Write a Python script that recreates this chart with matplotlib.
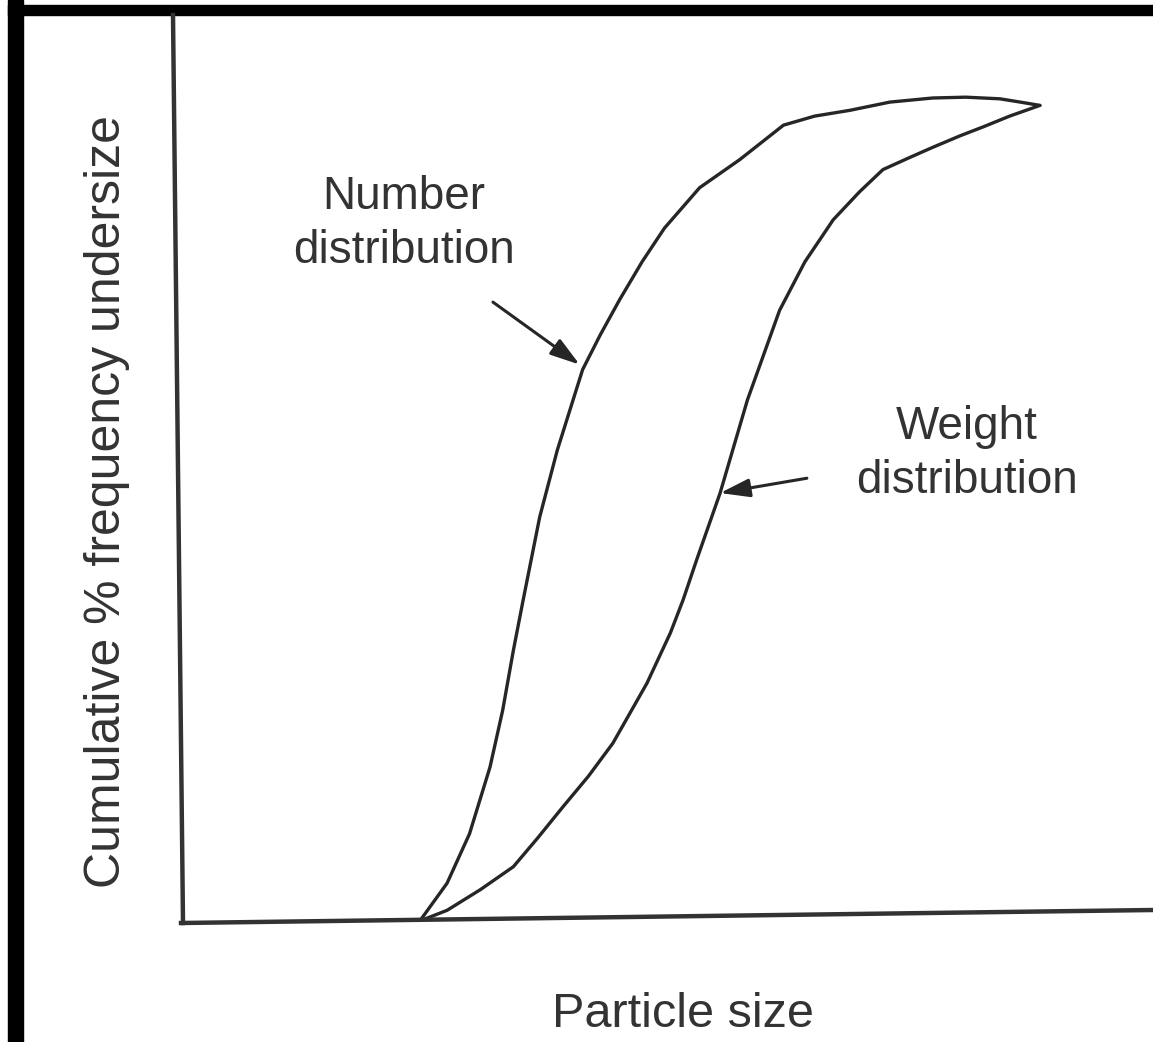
import matplotlib
matplotlib.use("Agg")
import matplotlib.pyplot as plt
from matplotlib.lines import Line2D
from matplotlib.patches import Rectangle

plt.rcParams['font.family'] = ['Liberation Sans', 'DejaVu Sans']

# ---- data (arbitrary particle-size units, cumulative %) ----
number_x = [24.8, 27.6, 29.9, 32.0, 33.3, 34.4, 35.4, 37.1, 38.9, 41.5, 43.3, 45.3, 47.6,
            49.9, 53.5, 57.6, 62.1, 65.3, 68.9, 73.0, 77.4, 80.8, 84.3, 86.4, 88.4]
number_y = [0.0, 4.6, 10.6, 18.7, 25.6, 32.9, 39.0, 49.1, 57.2, 67.0, 71.2, 75.5, 80.1,
            84.2, 89.1, 92.5, 96.7, 97.8, 98.5, 99.5, 100.0, 100.1, 99.9, 99.5, 99.1]

weight_x = [24.8, 27.6, 31.0, 34.4, 36.9, 39.5, 42.1, 44.6, 48.1, 50.5, 51.8, 53.2, 55.6,
            58.4, 61.7, 64.3, 67.2, 69.9, 72.3, 75.1, 77.4, 80.2, 82.6, 85.3, 88.4]
weight_y = [0.0, 1.3, 3.8, 6.6, 10.1, 13.9, 17.6, 21.6, 28.9, 35.0, 39.0, 43.9, 52.0,
            63.3, 74.2, 80.1, 85.2, 88.6, 91.3, 92.8, 94.0, 95.4, 96.5, 97.8, 99.1]

number_label = "Number\ndistribution"
weight_label = "Weight\ndistribution"
xlabel = "Particle size"
ylabel = "Cumulative % frequency undersize"

# annotation anchor points (data units)
number_text_xy = (23.2, 84.7)
number_arrow_tail = (32.3, 75.2)
number_arrow_tip = (41.2, 67.6)
weight_text_xy = (80.9, 56.7)
weight_arrow_tail = (64.5, 53.8)
weight_arrow_tip = (55.6, 52.0)

W, H = 1153, 1042
fig = plt.figure(figsize=(W / 100, H / 100), dpi=100)
fig.patch.set_facecolor('white')

def fx(px):
    return px / W

def fy(py):
    return 1 - py / H

ax = fig.add_axes([fx(178), fy(921), fx(1153) - fx(178), fy(15) - fy(921)])
ax.set_xlim(0, 100)
ax.set_ylim(0, (921 - 15) / 8.23)
ax.set_xticks([])
ax.set_yticks([])
for s in ax.spines.values():
    s.set_visible(False)
ax.patch.set_alpha(0)

ink = '#262626'
ax.plot(number_x, number_y, color=ink, lw=2.4, solid_joinstyle='round', solid_capstyle='round')
ax.plot(weight_x, weight_y, color=ink, lw=2.4, solid_joinstyle='round', solid_capstyle='round')

arrow_style = dict(arrowstyle='-|>,head_length=0.9,head_width=0.28', color=ink, lw=2.2,
                   mutation_scale=20, shrinkA=0, shrinkB=0)
ax.annotate("", xy=number_arrow_tip, xytext=number_arrow_tail, arrowprops=arrow_style)
ax.annotate("", xy=weight_arrow_tip, xytext=weight_arrow_tail, arrowprops=arrow_style)

ax.text(*number_text_xy, number_label, ha='center', va='center', fontsize=33,
        color='#333333', linespacing=1.3)
ax.text(*weight_text_xy, weight_label, ha='center', va='center', fontsize=33,
        color='#333333', linespacing=1.3)

# hand-drawn (slightly tilted) axis lines
fig.add_artist(Line2D([fx(173), fx(183)], [fy(15), fy(923)], color='#333333', lw=3.2,
                      transform=fig.transFigure))
fig.add_artist(Line2D([fx(181), fx(1153)], [fy(923), fy(910)], color='#333333', lw=3.2,
                      transform=fig.transFigure))

# axis labels
fig.text(fx(120), fy(502), ylabel, rotation=90, rotation_mode='anchor',
         ha='center', va='baseline', fontsize=36, color='#333333')
fig.text(fx(683), fy(1027), xlabel, ha='center', va='baseline', fontsize=35,
         color='#333333')

# scan border
fig.add_artist(Rectangle((fx(8), 0), fx(15), 1, color='black', transform=fig.transFigure))
fig.add_artist(Rectangle((fx(8), fy(15)), 1, 10 / H, color='black',
                         transform=fig.transFigure))

fig.savefig("out.png", dpi=100)
